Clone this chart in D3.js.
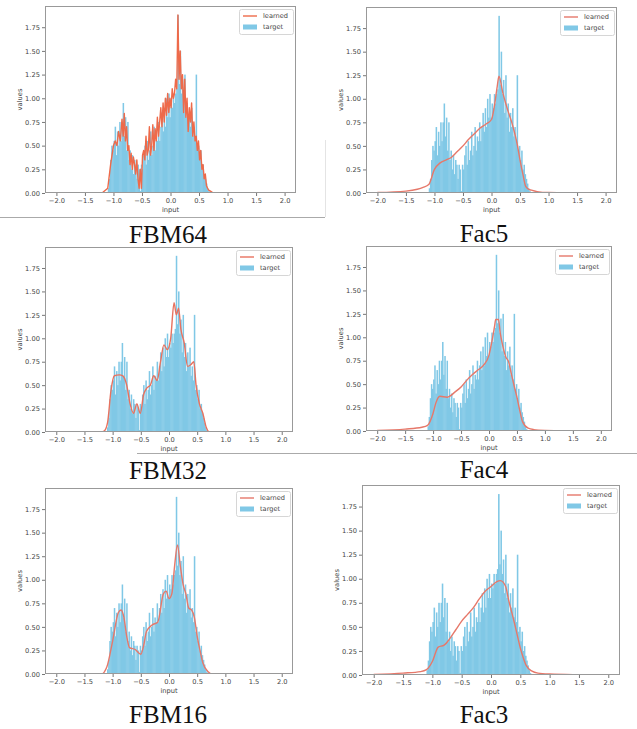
<!DOCTYPE html>
<html>
<head>
<meta charset="utf-8">
<script src="https://cdn.jsdelivr.net/npm/d3@7"></script>
<style>
body { margin: 0; background: #fff; }
svg { display: block; }
</style>
</head>
<body>
<div id="chart"></div>
<script>
// target histogram (same in every panel), bins of 0.02 starting at -1.10
const binStart = -1.10;
const binWidth = 0.02;
const targetValues = [
    0.05, 0.15, 0.35, 0.5, 0.45, 0.55, 0.7, 0.4, 0.65, 0.5,
    0.75, 0.55, 0.75, 0.95, 0.6, 0.8, 0.45, 0.75, 0.35, 0.45,
    0.25, 0.4, 0.2, 0.35, 0.3, 0.15, 0.3, 0.25, 0.02, 0.3,
    0.25, 0.4, 0.5, 0.3, 0.55, 0.35, 0.45, 0.65, 0.4, 0.5,
    0.7, 0.45, 0.6, 0.55, 0.75, 0.55, 0.7, 0.85, 0.65, 0.9,
    0.7, 1.0, 0.8, 1.05, 0.8, 0.95, 0.9, 1.05, 0.95, 1.05,
    1.1, 1.88, 1.15, 1.5, 1.05, 1.2, 0.85, 1.25, 0.8, 0.95,
    0.65, 0.85, 0.7, 0.9, 0.6, 0.7, 0.55, 1.25, 0.45, 0.5,
    0.35, 0.45, 0.25, 0.3, 0.2, 0.15, 0.1, 0.05, 0.02
];

const xTicks = [-2, -1.5, -1, -0.5, 0, 0.5, 1, 1.5, 2];
const yTicks = [0, 0.25, 0.5, 0.75, 1, 1.25, 1.5, 1.75];

// learned curves
const fbm64X = [-2, -1.2, -1.1, -1.05, -1.0, -0.97, -0.94, -0.91, -0.88, -0.85, -0.83, -0.81, -0.79, -0.77,
    -0.75, -0.73, -0.71, -0.69, -0.67, -0.65, -0.63, -0.61, -0.59, -0.57, -0.55, -0.53, -0.51,
    -0.49, -0.47, -0.45, -0.43, -0.41, -0.39, -0.37, -0.35, -0.33, -0.31, -0.29, -0.27, -0.25,
    -0.23, -0.21, -0.19, -0.17, -0.15, -0.13, -0.11, -0.09, -0.07, -0.05, -0.03, -0.01, 0.01,
    0.03, 0.05, 0.07, 0.09, 0.11, 0.13, 0.15, 0.17, 0.19, 0.21, 0.23, 0.25, 0.27, 0.29, 0.31,
    0.33, 0.35, 0.37, 0.39, 0.41, 0.43, 0.45, 0.47, 0.49, 0.51, 0.53, 0.55, 0.57, 0.59, 0.61,
    0.63, 0.65, 0.67, 0.7, 0.75, 2];
const fbm64Y = [0, 0, 0.05, 0.3, 0.5, 0.55, 0.5, 0.65, 0.55, 0.78, 0.6, 0.84, 0.55, 0.7,
    0.45, 0.5, 0.3, 0.42, 0.25, 0.38, 0.3, 0.2, 0.35, 0.15, 0.05, 0.25, 0.05,
    0.4, 0.45, 0.35, 0.6, 0.4, 0.45, 0.7, 0.4, 0.5, 0.72, 0.45, 0.68, 0.55,
    0.8, 0.6, 0.75, 0.9, 0.7, 0.95, 0.75, 1.0, 0.82, 1.05, 0.85, 1.0, 0.9,
    1.1, 1.0, 1.05, 1.2, 1.1, 1.88, 1.2, 1.5, 1.1, 1.25, 0.85, 1.2, 0.8, 1.0, 0.65,
    0.9, 0.75, 0.95, 0.6, 0.75, 0.55, 0.6, 0.45, 0.55, 0.35, 0.45, 0.25, 0.3, 0.15, 0.2,
    0.08, 0.05, 0.03, 0.02, 0, 0];

const fbm32X = [-2, -1.2, -1.15, -1.09, -1.03, -0.97, -0.88, -0.82, -0.75, -0.69, -0.63, -0.57, -0.51,
    -0.45, -0.39, -0.33, -0.27, -0.21, -0.15, -0.09, -0.03, 0.03, 0.09, 0.13, 0.17, 0.21, 0.27,
    0.33, 0.39, 0.44, 0.48, 0.54, 0.6, 0.66, 0.72, 2];
const fbm32Y = [0, 0, 0.01, 0.1, 0.44, 0.6, 0.61, 0.6, 0.5, 0.3, 0.2, 0.3, 0.2,
    0.4, 0.47, 0.5, 0.6, 0.55, 0.75, 0.93, 0.88, 1.0, 1.38, 1.25, 1.32, 1.1, 0.95,
    0.7, 0.72, 0.75, 0.5, 0.3, 0.2, 0.05, 0, 0];

const fbm16X = [-2, -1.2, -1.1, -1.0, -0.9, -0.85, -0.8, -0.75, -0.7, -0.6, -0.5, -0.45, -0.4, -0.3,
    -0.2, -0.1, -0.05, 0.0, 0.05, 0.1, 0.15, 0.2, 0.25, 0.3, 0.35, 0.4, 0.45, 0.5, 0.55, 0.6,
    0.7, 0.75, 2];
const fbm16Y = [0, 0, 0.08, 0.35, 0.65, 0.68, 0.6, 0.4, 0.28, 0.26, 0.21, 0.3, 0.45, 0.52,
    0.55, 0.85, 0.88, 0.8, 0.85, 1.15, 1.37, 1.15, 0.95, 0.85, 0.7, 0.68, 0.6, 0.4, 0.25, 0.12,
    0.02, 0, 0];

const fac5X = [-2, -1.5, -1.3, -1.2, -1.1, -1.0, -0.9, -0.8, -0.7, -0.6, -0.5, -0.4, -0.3, -0.2,
    -0.1, 0, 0.05, 0.1, 0.13, 0.2, 0.25, 0.3, 0.35, 0.4, 0.45, 0.5, 0.55, 0.6, 0.65, 0.7, 0.8,
    1.0, 1.5, 2];
const fac5Y = [0.005, 0.02, 0.04, 0.06, 0.09, 0.25, 0.32, 0.35, 0.38, 0.44, 0.5, 0.57, 0.63, 0.69,
    0.73, 0.78, 0.92, 1.13, 1.24, 1.06, 0.95, 0.85, 0.76, 0.65, 0.52, 0.35, 0.2, 0.07, 0.04, 0.03, 0.015,
    0.005, 0.002, 0];

const fac4X = [-2, -1.5, -1.2, -1.1, -1.0, -0.95, -0.88, -0.75, -0.6, -0.5, -0.4, -0.3, -0.2, -0.1,
    0, 0.05, 0.1, 0.12, 0.17, 0.2, 0.25, 0.3, 0.35, 0.4, 0.45, 0.5, 0.55, 0.6, 0.7, 0.8, 1.0,
    1.5, 2];
const fac4Y = [0.005, 0.02, 0.04, 0.06, 0.19, 0.3, 0.37, 0.36, 0.42, 0.47, 0.54, 0.6, 0.65, 0.7,
    0.81, 0.95, 1.12, 1.19, 1.19, 1.05, 0.9, 0.79, 0.74, 0.61, 0.48, 0.36, 0.22, 0.1, 0.03, 0.015, 0.007,
    0.002, 0];

const fac3X = [-2, -1.5, -1.2, -1.1, -1.0, -0.9, -0.8, -0.7, -0.6, -0.5, -0.4, -0.3, -0.2, -0.1,
    0, 0.1, 0.16, 0.25, 0.3, 0.35, 0.4, 0.45, 0.5, 0.55, 0.6, 0.7, 0.8, 1.0, 1.5, 2];
const fac3Y = [0.005, 0.02, 0.035, 0.055, 0.14, 0.29, 0.31, 0.38, 0.47, 0.56, 0.63, 0.7, 0.79, 0.87,
    0.92, 0.97, 0.98, 0.92, 0.78, 0.66, 0.54, 0.41, 0.28, 0.18, 0.1, 0.04, 0.02, 0.01, 0.003, 0];

const panels = [
    { title: "FBM64", xs: fbm64X, ys: fbm64Y, color: "#ee6a4a", curve: d3.curveLinear,
      box: { l: 45, r: 296, t: 6, b: 193 }, tx: 168, ty: 243 },
    { title: "Fac5", xs: fac5X, ys: fac5Y, color: "#e6786a", curve: d3.curveMonotoneX,
      box: { l: 366, r: 617, t: 7, b: 193 }, tx: 484, ty: 242 },
    { title: "FBM32", xs: fbm32X, ys: fbm32Y, color: "#e8725f", curve: d3.curveMonotoneX,
      box: { l: 45, r: 293, t: 247, b: 432 }, tx: 168, ty: 479 },
    { title: "Fac4", xs: fac4X, ys: fac4Y, color: "#e6786a", curve: d3.curveMonotoneX,
      box: { l: 366, r: 612, t: 246, b: 431 }, tx: 484, ty: 478 },
    { title: "FBM16", xs: fbm16X, ys: fbm16Y, color: "#e6786a", curve: d3.curveMonotoneX,
      box: { l: 45, r: 293, t: 488, b: 674 }, tx: 168, ty: 723 },
    { title: "Fac3", xs: fac3X, ys: fac3Y, color: "#e6786a", curve: d3.curveMonotoneX,
      box: { l: 362, r: 620, t: 485, b: 675 }, tx: 484, ty: 723 }
];

const W = 637, H = 729;
const svg = d3.select("#chart").append("svg")
    .attr("width", W)
    .attr("height", H);

const yMax = d3.max(targetValues) * 1.05;
const tickFont = "DejaVu Sans, sans-serif";

// separator lines of the figure
svg.append("line").attr("x1", 0).attr("x2", 325).attr("y1", 217.5).attr("y2", 217.5)
    .attr("stroke", "#aaa").attr("stroke-width", 1);
svg.append("line").attr("x1", 325.5).attr("x2", 325.5).attr("y1", 140).attr("y2", 217)
    .attr("stroke", "#e4e4e4").attr("stroke-width", 1);
svg.append("line").attr("x1", 137).attr("x2", 637).attr("y1", 453.5).attr("y2", 453.5)
    .attr("stroke", "#aaa").attr("stroke-width", 1);

panels.forEach((p, pi) => {
    const x = d3.scaleLinear().domain([-2.2, 2.2]).range([p.box.l, p.box.r]);
    const y = d3.scaleLinear().domain([0, yMax]).range([p.box.b, p.box.t]);

    const g = svg.append("g");

    const clipId = "clip" + pi;
    g.append("clipPath").attr("id", clipId)
        .append("rect")
        .attr("x", p.box.l).attr("y", p.box.t)
        .attr("width", p.box.r - p.box.l).attr("height", p.box.b - p.box.t);

    const plot = g.append("g").attr("clip-path", `url(#${clipId})`);

    // histogram bars (small overlap so antialiasing leaves no white seams)
    plot.selectAll("rect.bar")
        .data(targetValues)
        .enter()
        .append("rect")
        .attr("class", "bar")
        .attr("x", (d, i) => x(binStart + i * binWidth))
        .attr("width", (d, i) => x(binStart + (i + 1) * binWidth) - x(binStart + i * binWidth) + 0.4)
        .attr("y", d => y(d))
        .attr("height", d => p.box.b - y(d))
        .attr("fill", "#80c8e6");

    // learned line
    const line = d3.line()
        .x((d, i) => x(p.xs[i]))
        .y(d => y(d))
        .curve(p.curve);

    plot.append("path")
        .datum(p.ys)
        .attr("fill", "none")
        .attr("stroke", p.color)
        .attr("stroke-width", 1.4)
        .attr("stroke-linejoin", "round")
        .attr("d", line);

    // axes
    const xAxis = g.append("g")
        .attr("transform", `translate(0,${p.box.b})`)
        .call(d3.axisBottom(x).tickValues(xTicks).tickFormat(d3.format(".1f")).tickSize(3).tickPadding(2));
    const yAxis = g.append("g")
        .attr("transform", `translate(${p.box.l},0)`)
        .call(d3.axisLeft(y).tickValues(yTicks).tickFormat(d3.format(".2f")).tickSize(3).tickPadding(2));

    [xAxis, yAxis].forEach(a => {
        a.select(".domain").remove();
        a.selectAll("line").attr("stroke", "#777");
        a.selectAll("text")
            .attr("fill", "#444")
            .style("font-family", tickFont)
            .style("font-size", "6.7px");
    });

    // frame
    g.append("rect")
        .attr("x", p.box.l + 0.5).attr("y", p.box.t + 0.5)
        .attr("width", p.box.r - p.box.l - 1).attr("height", p.box.b - p.box.t - 1)
        .attr("fill", "none")
        .attr("stroke", "#999")
        .attr("stroke-width", 1);

    // axis labels
    g.append("text")
        .attr("x", (p.box.l + p.box.r) / 2)
        .attr("y", p.box.b + 19)
        .attr("text-anchor", "middle")
        .attr("fill", "#444")
        .style("font-family", tickFont)
        .style("font-size", "6.7px")
        .text("input");

    g.append("text")
        .attr("transform", `translate(${p.box.l - 23},${(p.box.t + p.box.b) / 2}) rotate(-90)`)
        .attr("text-anchor", "middle")
        .attr("fill", "#444")
        .style("font-family", tickFont)
        .style("font-size", "6.7px")
        .text("values");

    // legend
    const lg = g.append("g")
        .attr("transform", `translate(${p.box.r - 57},${p.box.t + 3})`);
    lg.append("rect")
        .attr("x", 0.5).attr("y", 0.5)
        .attr("width", 54).attr("height", 25)
        .attr("rx", 2)
        .attr("fill", "#fff")
        .attr("stroke", "#d6d6d6");
    lg.append("line")
        .attr("x1", 4).attr("x2", 18).attr("y1", 7).attr("y2", 7)
        .attr("stroke", p.color).attr("stroke-width", 1.4);
    lg.append("rect")
        .attr("x", 4).attr("y", 15.5).attr("width", 14).attr("height", 5)
        .attr("fill", "#80c8e6");
    lg.append("text")
        .attr("x", 24).attr("y", 7).attr("dy", "0.35em")
        .attr("fill", "#444")
        .style("font-family", tickFont)
        .style("font-size", "6.6px")
        .text("learned");
    lg.append("text")
        .attr("x", 24).attr("y", 18).attr("dy", "0.35em")
        .attr("fill", "#444")
        .style("font-family", tickFont)
        .style("font-size", "6.6px")
        .text("target");

    // panel title
    svg.append("text")
        .attr("x", p.tx)
        .attr("y", p.ty)
        .attr("text-anchor", "middle")
        .attr("fill", "#111")
        .style("font-family", "Liberation Serif, Times New Roman, serif")
        .style("font-size", "25px")
        .text(p.title);
});
</script>
</body>
</html>
